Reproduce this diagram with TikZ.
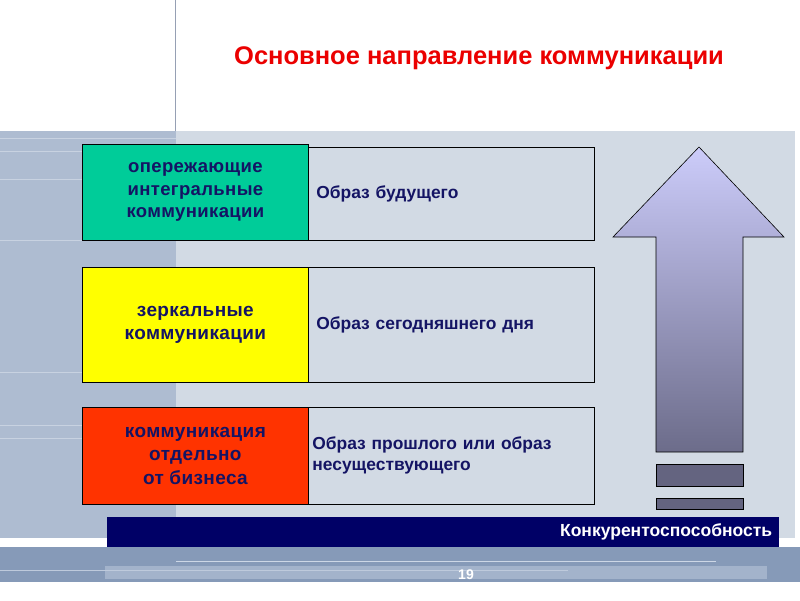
\documentclass[tikz,border=0pt]{standalone}
\usepackage{fontspec}
\setmainfont{Liberation Sans}
\newfontfamily\spacedfont[LetterSpace=2]{Liberation Sans}
\definecolor{leftbg}{RGB}{174,188,209}
\definecolor{rightbg}{RGB}{210,218,228}
\definecolor{panelline}{RGB}{200,210,225}
\definecolor{navytext}{RGB}{20,20,100}
\definecolor{navybar}{RGB}{0,0,102}
\definecolor{boxgreen}{RGB}{0,204,153}
\definecolor{boxyellow}{RGB}{255,255,0}
\definecolor{boxred}{RGB}{255,51,0}
\definecolor{bandcol}{RGB}{134,154,184}
\definecolor{bandlight}{RGB}{163,179,203}
\definecolor{arrowtop}{RGB}{204,204,250}
\definecolor{arrowbot}{RGB}{108,108,138}
\definecolor{stepcol}{RGB}{100,100,128}
\definecolor{titlered}{RGB}{235,0,0}
\tikzset{
  lbox/.style={draw=black, line width=0.8pt, anchor=north west, align=center,
    font=\spacedfont\bfseries\fontsize{19}{23.5}\selectfont, text=navytext, inner sep=0pt},
  rbox/.style={draw=black, line width=0.8pt, fill=rightbg, anchor=north west, align=left,
    font=\bfseries\fontsize{17.4}{21}\selectfont, text=navytext, inner xsep=8pt, inner ysep=0pt},
  stepbar/.style={draw=black, line width=0.6pt, fill=stepcol},
  pline/.style={panelline, line width=0.7pt}
}
\begin{document}
\begin{tikzpicture}[x=1pt,y=-1pt]
\useasboundingbox (0,0) rectangle (800,600);
\fill[white] (0,0) rectangle (800,600);
% backgrounds
\fill[rightbg] (175,131) rectangle (795,538);
\fill[leftbg] (0,131) rectangle (176,538);
\foreach \yy in {138,151,179,240,372,425,438} \draw[pline] (0,\yy) -- (176,\yy);
\draw[color={rgb,255:red,150;green,160;blue,180}, line width=0.8pt] (175.5,0) -- (175.5,131);
% bottom band
\fill[bandcol] (0,547) rectangle (800,582);
\fill[bandlight] (105,566) rectangle (767,579);
\draw[color={rgb,255:red,205;green,215;blue,230}, line width=0.6pt] (176,561) -- (716,561);
\draw[color={rgb,255:red,190;green,202;blue,220}, line width=0.6pt] (0,570) -- (568,570);
\node[text=white, font=\bfseries\fontsize{14}{16}\selectfont] (pg) at (466,575) {19};
% title
\node[text=titlered, font=\bfseries\fontsize{25.5}{30}\selectfont] (title) at (479,58) {Основное направление коммуникации};
% rows
\node[lbox, fill=boxgreen, minimum width=226, minimum height=96, font=\spacedfont\bfseries\fontsize{18.5}{22.5}\selectfont] (g) at (82,144) {опережающие\\интегральные\\коммуникации};
\node[rbox, minimum width=286, minimum height=93, text width=270] (gr) at (308,147) {Образ будущего};
\node[lbox, fill=boxyellow, minimum width=226, minimum height=115] (y) at (82,267) {зеркальные\\коммуникации};
\node[rbox, minimum width=286, minimum height=115, text width=270] (yr) at (308,267) {Образ сегодняшнего дня};
\node[lbox, fill=boxred, minimum width=226, minimum height=97] (r) at (82,407) {коммуникация\\отдельно\\от бизнеса};
\node[rbox, minimum width=286, minimum height=97, text width=278, inner xsep=4pt] (rr) at (308,407) {Образ прошлого или образ\\несуществующего};
% arrow
\path[draw=black, line width=0.6pt, top color=arrowtop, bottom color=arrowbot]
  (699,147) -- (784,237) -- (743,237) -- (743,452) -- (656,452) -- (656,237) -- (613,237) -- cycle;
\draw[stepbar] (656,464) rectangle (743,486);
\draw[stepbar] (656,498) rectangle (743,509);
% bar
\node[fill=navybar, anchor=north west, minimum width=672, minimum height=30, text width=658, inner xsep=7pt, inner ysep=0pt, align=right, text=white, font=\bfseries\fontsize{17.5}{20}\selectfont] (bar) at (107,517) {Конкурентоспособность};
\end{tikzpicture}
\end{document}
